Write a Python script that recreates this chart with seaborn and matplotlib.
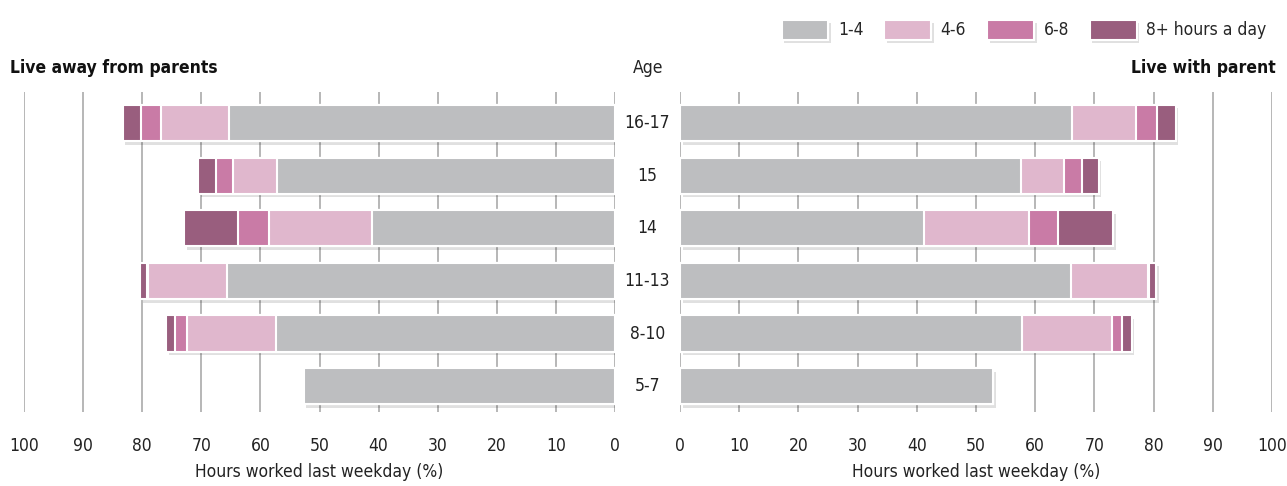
import numpy as np
import pandas as pd
import matplotlib
matplotlib.use("Agg")
import matplotlib.pyplot as plt
import matplotlib.patheffects as pe
from matplotlib.patches import Patch
import seaborn as sns

# Data (percent of children)
ages = ["16-17", "15", "14", "11-13", "8-10", "5-7"]
groups = ["1-4", "4-6", "6-8", "8+ hours a day"]

away_1_4 = [65.3, 57.2, 41.2, 65.7, 57.4, 52.7]
away_4_6 = [11.5, 7.4, 17.3, 13.3, 15.1, 0.0]
away_6_8 = [3.4, 2.9, 5.3, 0.2, 2.0, 0.0]
away_8p = [3.1, 3.1, 9.1, 1.2, 1.4, 0.0]

with_1_4 = [66.2, 57.6, 41.3, 66.0, 57.7, 52.9]
with_4_6 = [10.8, 7.3, 17.6, 13.0, 15.3, 0.0]
with_6_8 = [3.6, 3.0, 5.0, 0.3, 1.7, 0.0]
with_8p = [3.1, 2.8, 9.3, 1.1, 1.6, 0.0]

colors = ["#bdbec0", "#e0b7cd", "#c97ba6", "#995e7e"]

sns.set_style("white")
plt.rcParams["font.family"] = ["DejaVu Sans"]
plt.rcParams["font.stretch"] = "condensed"
plt.rcParams["font.size"] = 12

fig = plt.figure(figsize=(12.87, 4.86), dpi=100)
bottom, height = 1 - 412 / 486, 320 / 486
ax_l = fig.add_axes([24 / 1287, bottom, 591 / 1287, height])
ax_r = fig.add_axes([680 / 1287, bottom, 592 / 1287, height])

shadow = [pe.SimplePatchShadow(offset=(2, -2.5), shadow_rgbFace="black", alpha=0.12), pe.Normal()]


def draw_side(ax, parts):
    df = pd.DataFrame({"age": ages})
    cum = np.cumsum(np.array(parts), axis=0)
    # draw from longest cumulative to shortest so segments stack
    for k in range(3, -1, -1):
        df["v"] = cum[k]
        n_before = len(ax.patches)
        sns.barplot(data=df, x="v", y="age", order=ages, color=colors[k],
                    width=0.69, edgecolor="white", linewidth=1.5,
                    saturation=1, ax=ax, zorder=3)
        if k == 3:
            for p in ax.patches[n_before:]:
                p.set_path_effects(shadow)
    ax.set_xlim(0, 100)
    ax.set_ylim(5.49, -0.59)
    ax.set_xticks(np.arange(0, 101, 10))
    ax.grid(axis="x", color="#a3a3a3", linewidth=1.1, zorder=0)
    ax.set_axisbelow(True)
    sns.despine(ax=ax, left=True, bottom=True)
    ax.set_yticks([])
    ax.set_ylabel("")
    ax.tick_params(axis="x", length=0, pad=18, labelsize=12.5, colors="#222222")
    ax.set_xlabel("Hours worked last weekday (%)", fontsize=12.5, labelpad=6, color="#222222")


draw_side(ax_l, [away_1_4, away_4_6, away_6_8, away_8p])
draw_side(ax_r, [with_1_4, with_4_6, with_6_8, with_8p])
ax_l.invert_xaxis()

for i, a in enumerate(ages):
    ax_r.text(-5.5, i, a, ha="center", va="center", fontsize=12.5, clip_on=False, color="#222222")

fig.text(648 / 1287, 1 - 68 / 486, "Age", ha="center", va="center", fontsize=12.5, color="#222222")
fig.text(10 / 1287, 1 - 68 / 486, "Live away from parents", ha="left", va="center",
         fontsize=12.5, fontweight="bold", color="#111111")
fig.text(1276 / 1287, 1 - 68 / 486, "Live with parent", ha="right", va="center",
         fontsize=12.5, fontweight="bold", color="#111111")

handles = [Patch(facecolor=c, edgecolor="white", linewidth=1.5, path_effects=shadow) for c in colors]
fig.legend(handles, groups, loc="upper right", bbox_to_anchor=(1282 / 1287, 1 - 4 / 486),
           ncol=4, frameon=False, handlelength=2.7, handleheight=1.4,
           handletextpad=0.55, columnspacing=1.2, fontsize=12.5)

fig.savefig("out.png", dpi=100)
